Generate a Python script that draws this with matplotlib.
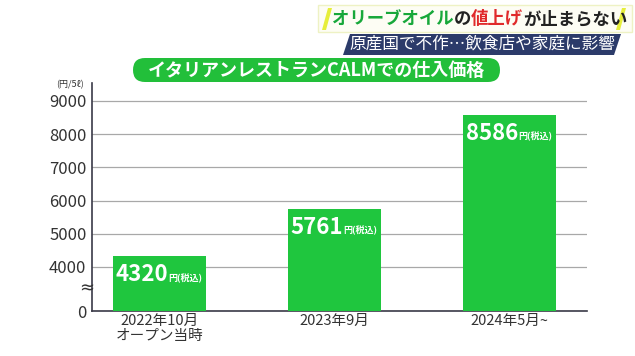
import numpy as np
import matplotlib
matplotlib.use('Agg')
import matplotlib.pyplot as plt
from matplotlib.patches import FancyBboxPatch, Polygon, Rectangle

plt.rcParams['font.family'] = ['Noto Sans CJK JP', 'DejaVu Sans']

# Values
periods = ['2022年10月\nオープン当時', '2023年9月', '2024年5月~']
prices = [4320, 5761, 8586]
y_ticks = [0, 4000, 5000, 6000, 7000, 8000, 9000]

title = 'イタリアンレストランCALMでの仕入価格'
headline = [('オリーブオイル', '#17a83a'), ('の', '#222222'),
            ('値上げ', '#e02a2a'), ('が止まらない', '#222222')]
subline = '原産国で不作…飲食店や家庭に影響'

bar_green = '#1fc63e'
text_dark = '#333333'

W, H = 635, 356
fig = plt.figure(figsize = (W / 100, H / 100), dpi = 100)

# The axis is broken below 4000: 0..4000 is squeezed into a short stretch
BREAK = 4000.0
ZERO_POS = 2675.0

def fwd(v):
    v = np.asarray(v, dtype = float)
    return np.where(v >= BREAK, v, ZERO_POS + v * (BREAK - ZERO_POS) / BREAK)

def inv(p):
    p = np.asarray(p, dtype = float)
    return np.where(p >= BREAK, p, (p - ZERO_POS) * BREAK / (BREAK - ZERO_POS))

# Axes placed by pixel position of the original
left, right, top, bottom = 92, 587, 83, 311
ax = fig.add_axes([left / W, 1 - bottom / H, (right - left) / W, (bottom - top) / H])
ax.set_yscale('function', functions = (fwd, inv))

x = np.arange(len(prices))
ax.bar(x, prices, width = 0.53, color = bar_green, zorder = 3)

ax.set_xlim(-0.386, 2.443)
ax.set_ylim(0, 9540)
ax.set_yticks(y_ticks)
ax.set_yticklabels([str(v) for v in y_ticks], fontsize = 12, color = text_dark)
ax.set_xticks(x)
ax.set_xticklabels(periods, fontsize = 10.5, color = text_dark, linespacing = 1.1)
ax.tick_params(axis = 'both', length = 0)
ax.tick_params(axis = 'y', pad = 4)
ax.tick_params(axis = 'x', pad = 2)

ax.grid(axis = 'y', color = '#a8a8a8', linewidth = 0.9)
ax.set_axisbelow(True)
for side in ['top', 'right']:
    ax.spines[side].set_visible(False)
for side in ['left', 'bottom']:
    ax.spines[side].set_color('#3a3a48')
    ax.spines[side].set_linewidth(1.2)

# Price labels inside the bars: big number + small unit
for xi, p in zip(x, prices):
    ax.annotate(str(p), xy = (xi, p), xytext = (6, -18), textcoords = 'offset points',
                ha = 'right', va = 'baseline', fontsize = 16, fontweight = 'bold',
                color = 'white', zorder = 4)
    ax.annotate('円(税込)', xy = (xi, p), xytext = (6.5, -18), textcoords = 'offset points',
                ha = 'left', va = 'baseline', fontsize = 6.5, fontweight = 'bold',
                color = 'white', zorder = 4)

# Unit label and break mark
fig.text(70 / W, 1 - 85 / H, '(円/5ℓ)', fontsize = 6.5, color = text_dark,
         ha = 'center', va = 'center')
fig.text(87 / W, 1 - 288 / H, '≈', fontsize = 13, color = text_dark,
         ha = 'center', va = 'center', family = ['DejaVu Sans'])

# Header graphics, drawn in inches (pixel/100) from the bottom-left
def inch(px_x, px_y):
    return (px_x / 100, (H - px_y) / 100)

tr = fig.dpi_scale_trans

# Green rounded title banner
banner = FancyBboxPatch(inch(133, 82), 3.67, 0.24, boxstyle = 'round,pad=0,rounding_size=0.12',
                        facecolor = '#22bf3a', edgecolor = 'none', transform = tr)
fig.patches.append(banner)
fig.text(316.5 / W, 1 - 70.5 / H, title, fontsize = 13, fontweight = 'bold',
         color = 'white', ha = 'center', va = 'center')

# Light box behind the headline
box = Rectangle(inch(318, 32), 3.14, 0.27, facecolor = '#fdfdf4',
                edgecolor = '#eef2c4', linewidth = 1, transform = tr)
fig.patches.append(box)

# Yellow slashes either side of the headline
for sx in [322, 616]:
    pts = [inch(sx, 30), inch(sx + 4, 30), inch(sx + 10, 8), inch(sx + 6, 8)]
    fig.patches.append(Polygon(pts, closed = True, facecolor = '#e6ee3a',
                               edgecolor = 'none', transform = tr))

# Multi-coloured headline, placed piece by piece
renderer = fig.canvas.get_renderer()
hx = 332 / W
for s, c in headline:
    t = fig.text(hx, 1 - 19 / H, s, fontsize = 12.5, fontweight = 'bold', color = c,
                 ha = 'left', va = 'center')
    hx += t.get_window_extent(renderer).width / W

# Navy slanted sub-headline
pts = [inch(343, 55), inch(614, 55), inch(621, 34), inch(350, 34)]
fig.patches.append(Polygon(pts, closed = True, facecolor = '#2c3b6a',
                           edgecolor = 'none', transform = tr))
fig.text(482 / W, 1 - 44.5 / H, subline, fontsize = 12, color = 'white',
         ha = 'center', va = 'center')

fig.savefig('out.png', dpi = 100)
